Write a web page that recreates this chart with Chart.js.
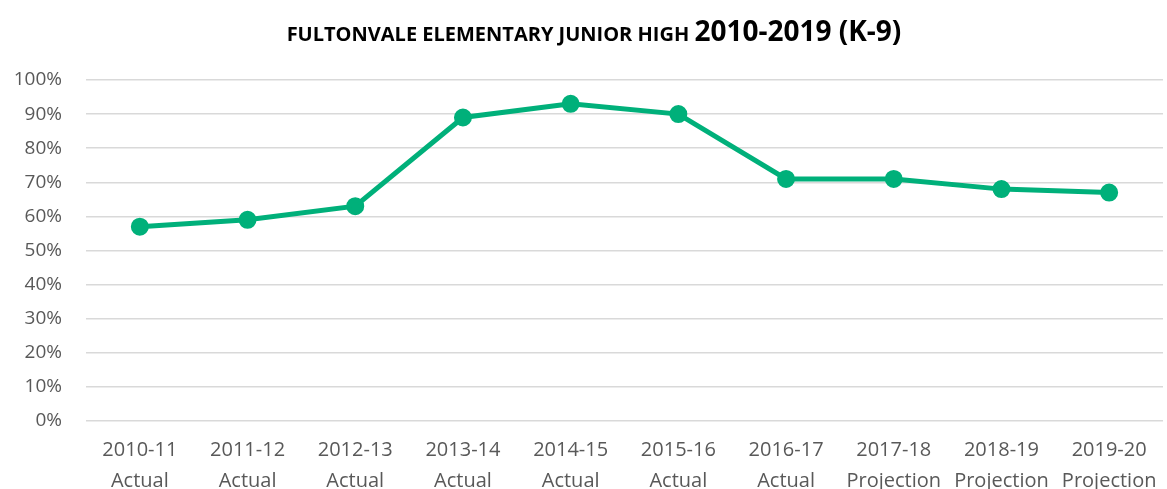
<!DOCTYPE html>
<html>
<head>
<meta charset="utf-8">
<script src="https://cdn.jsdelivr.net/npm/chart.js@4"></script>
<style>
  html, body { margin: 0; padding: 0; background: #fff; overflow: hidden; }
  #wrap { width: 1167px; height: 489px; }
</style>
</head>
<body>
<div id="wrap"><canvas id="chart"></canvas></div>
<script>
// chart data
const years = ['2010-11', '2011-12', '2012-13', '2013-14', '2014-15', '2015-16', '2016-17', '2017-18', '2018-19', '2019-20'];
const kinds = ['Actual', 'Actual', 'Actual', 'Actual', 'Actual', 'Actual', 'Actual', 'Projection', 'Projection', 'Projection'];
const utilization = [57, 59, 63, 89, 93, 90, 71, 71, 68, 67];
const titleSmall = 'FULTONVALE ELEMENTARY JUNIOR HIGH ';
const titleBig = '2010-2019 (K-9)';

const labels = years.map((y, i) => [y, kinds[i]]);

// draws the title with two font sizes, like the original
const mixedTitle = {
    id: 'mixedTitle',
    afterDraw(chart) {
        const ctx = chart.ctx;
        ctx.save();
        ctx.fillStyle = '#000';
        ctx.textBaseline = 'alphabetic';
        const small = 'bold 20px "Open Sans"';
        const big = 'bold 28px "Open Sans"';
        ctx.font = small;
        const w1 = ctx.measureText(titleSmall).width;
        ctx.font = big;
        const w2 = ctx.measureText(titleBig).width;
        let x = 594 - (w1 + w2) / 2;
        ctx.font = small;
        ctx.fillText(titleSmall, x, 41);
        ctx.font = big;
        ctx.fillText(titleBig, x + w1, 41);
        ctx.restore();
    }
};

new Chart(document.getElementById('chart'), {
    type: 'line',
    data: {
        labels: labels,
        datasets: [{
            data: utilization,
            borderColor: '#00b07a',
            backgroundColor: '#00b07a',
            borderWidth: 5,
            pointRadius: 6.5,
            pointHoverRadius: 6.5,
            tension: 0,
        }],
    },
    options: {
        responsive: true,
        maintainAspectRatio: false,
        animation: false,
        layout: { autoPadding: false, padding: { top: 80, right: 4, left: 0, bottom: 0 } },
        plugins: {
            legend: { display: false },
            tooltip: { enabled: false },
            title: { display: false },
        },
        scales: {
            x: {
                offset: true,
                grid: { display: false, drawTicks: false },
                border: { display: false },
                afterFit: s => {
                    s.height = 68;
                    s.paddingLeft = 0;
                    s.paddingRight = 0;
                },
                ticks: {
                    color: '#595959',
                    font: { family: '"Open Sans"', size: 20, lineHeight: 1.55 },
                    maxRotation: 0,
                    autoSkip: false,
                    padding: 14,
                },
            },
            y: {
                min: 0,
                max: 100,
                grid: { color: '#d9d9d9', lineWidth: 1.5, drawTicks: false },
                border: { display: false },
                afterFit: s => { s.width = 86; },
                ticks: {
                    stepSize: 10,
                    color: '#595959',
                    font: { family: '"Open Sans"', size: 19 },
                    padding: 24,
                    callback: v => v + '%',
                },
            },
        },
    },
    plugins: [mixedTitle],
});
</script>
</body>
</html>
